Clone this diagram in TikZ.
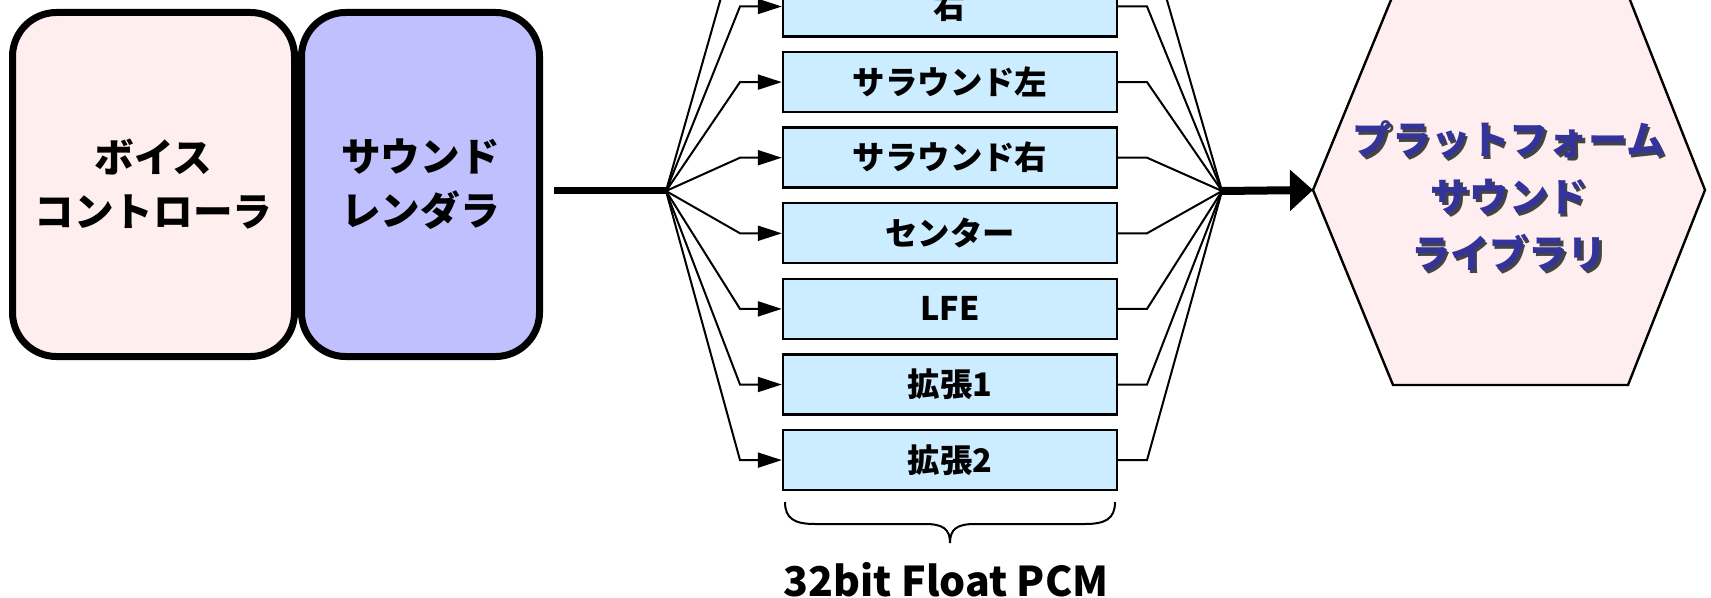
\documentclass[tikz,border=0pt]{standalone}
\usepackage{fontspec}
\setmainfont{Noto Sans CJK JP}
\usetikzlibrary{arrows.meta}
\definecolor{vcfill}{HTML}{FFEEEE}
\definecolor{srfill}{HTML}{C0C0FF}
\definecolor{chfill}{HTML}{CCECFF}
\definecolor{hexfill}{HTML}{FFEEF0}
\definecolor{hextext}{HTML}{333399}
\definecolor{hexshadow}{HTML}{444444}
\begin{document}
\begin{tikzpicture}[x=0.5pt,y=-0.5pt,
  bigbox/.style={draw=black,line width=3.5pt,rounded corners=22pt,minimum height=172pt,
    inner sep=0pt,align=center,font=\bfseries\fontsize{19.8}{27}\selectfont},
  chbox/.style={draw=black,line width=1.2pt,fill=chfill,minimum width=167pt,minimum height=30pt,
    inner sep=0pt,font=\bfseries\fontsize{16.2}{18}\selectfont},
  conn/.style={line width=1pt},
  inarrow/.style={conn,-{Triangle[length=12pt,width=7.5pt]}},
  fatline/.style={line width=3.5pt},
  fatarrow/.style={line width=4pt,-{Triangle[length=11.5pt,width=20pt]}},
  hexlabel/.style={align=center,inner sep=0pt,font=\bfseries\fontsize{19.6}{28.5}\selectfont},
  pcmlabel/.style={inner sep=0pt,font=\bfseries\fontsize{20.5}{22}\selectfont}]
\path[use as bounding box] (0,0) rectangle (1711,598);
\clip (0,0) rectangle (1711,598);

% left blocks
\node[bigbox,fill=vcfill,minimum width=141pt] (vc) at (153.5,184.5) {ボイス\\コントローラ};
\node[bigbox,fill=srfill,minimum width=119pt] (sr) at (420.5,184.5) {サウンド\\レンダラ};

% fan points
\coordinate (src) at (554,191);
\coordinate (fanL) at (666,191);
\coordinate (fanR) at (1222,191);
\draw[fatline] (src) -- (fanL);

% channel boxes
\node[chbox] (c1) at (950,6.5) {右};
\node[chbox] (c2) at (950,82.1) {サラウンド左};
\node[chbox] (c3) at (950,157.7) {サラウンド右};
\node[chbox] (c4) at (950,233.3) {センター};
\node[chbox] (c5) at (950,308.9) {LFE};
\node[chbox] (c6) at (950,384.5) {拡張1};
\node[chbox] (c7) at (950,460.1) {拡張2};
\coordinate (c0w) at (783,-69.1);
\coordinate (c0e) at (1117,-69.1);

% connectors to and from the channels
\draw[inarrow] (fanL) -- (740,-69.1) -- (c0w);
\draw[conn] (c0e) -- (1147,-69.1) -- (fanR);
\foreach \i in {1,...,7}{
  \draw[inarrow] (fanL) -- (740,0 |- c\i.west) -- (c\i.west);
  \draw[conn] (c\i.east) -- (1147,0 |- c\i.east) -- (fanR);
}

% brace and label
\draw[line width=1pt] (785,502) .. controls (785,519) and (795,524) .. (815,524) -- (925,524)
  .. controls (943,524) and (950,529) .. (950,543)
  .. controls (950,529) and (957,524) .. (975,524) -- (1085,524)
  .. controls (1105,524) and (1115,519) .. (1115,502);
\node[pcmlabel,anchor=base] (pcm) at (946,596) {32bit Float PCM};

% hexagon
\coordinate (hexW) at (1313,190);
\draw[line width=1.2pt,fill=hexfill] (hexW) -- (1393,-5) -- (1628,-5) -- (1705,190) -- (1628,385) -- (1393,385) -- cycle;
\node[hexlabel,text=hexshadow] (hexs) at (1511.5,198.5) {プラットフォーム\\サウンド\\ライブラリ};
\node[hexlabel,text=hextext] (hex) at (1509,196) {プラットフォーム\\サウンド\\ライブラリ};
\draw[fatarrow] (fanR) -- (hexW);
\end{tikzpicture}
\end{document}
